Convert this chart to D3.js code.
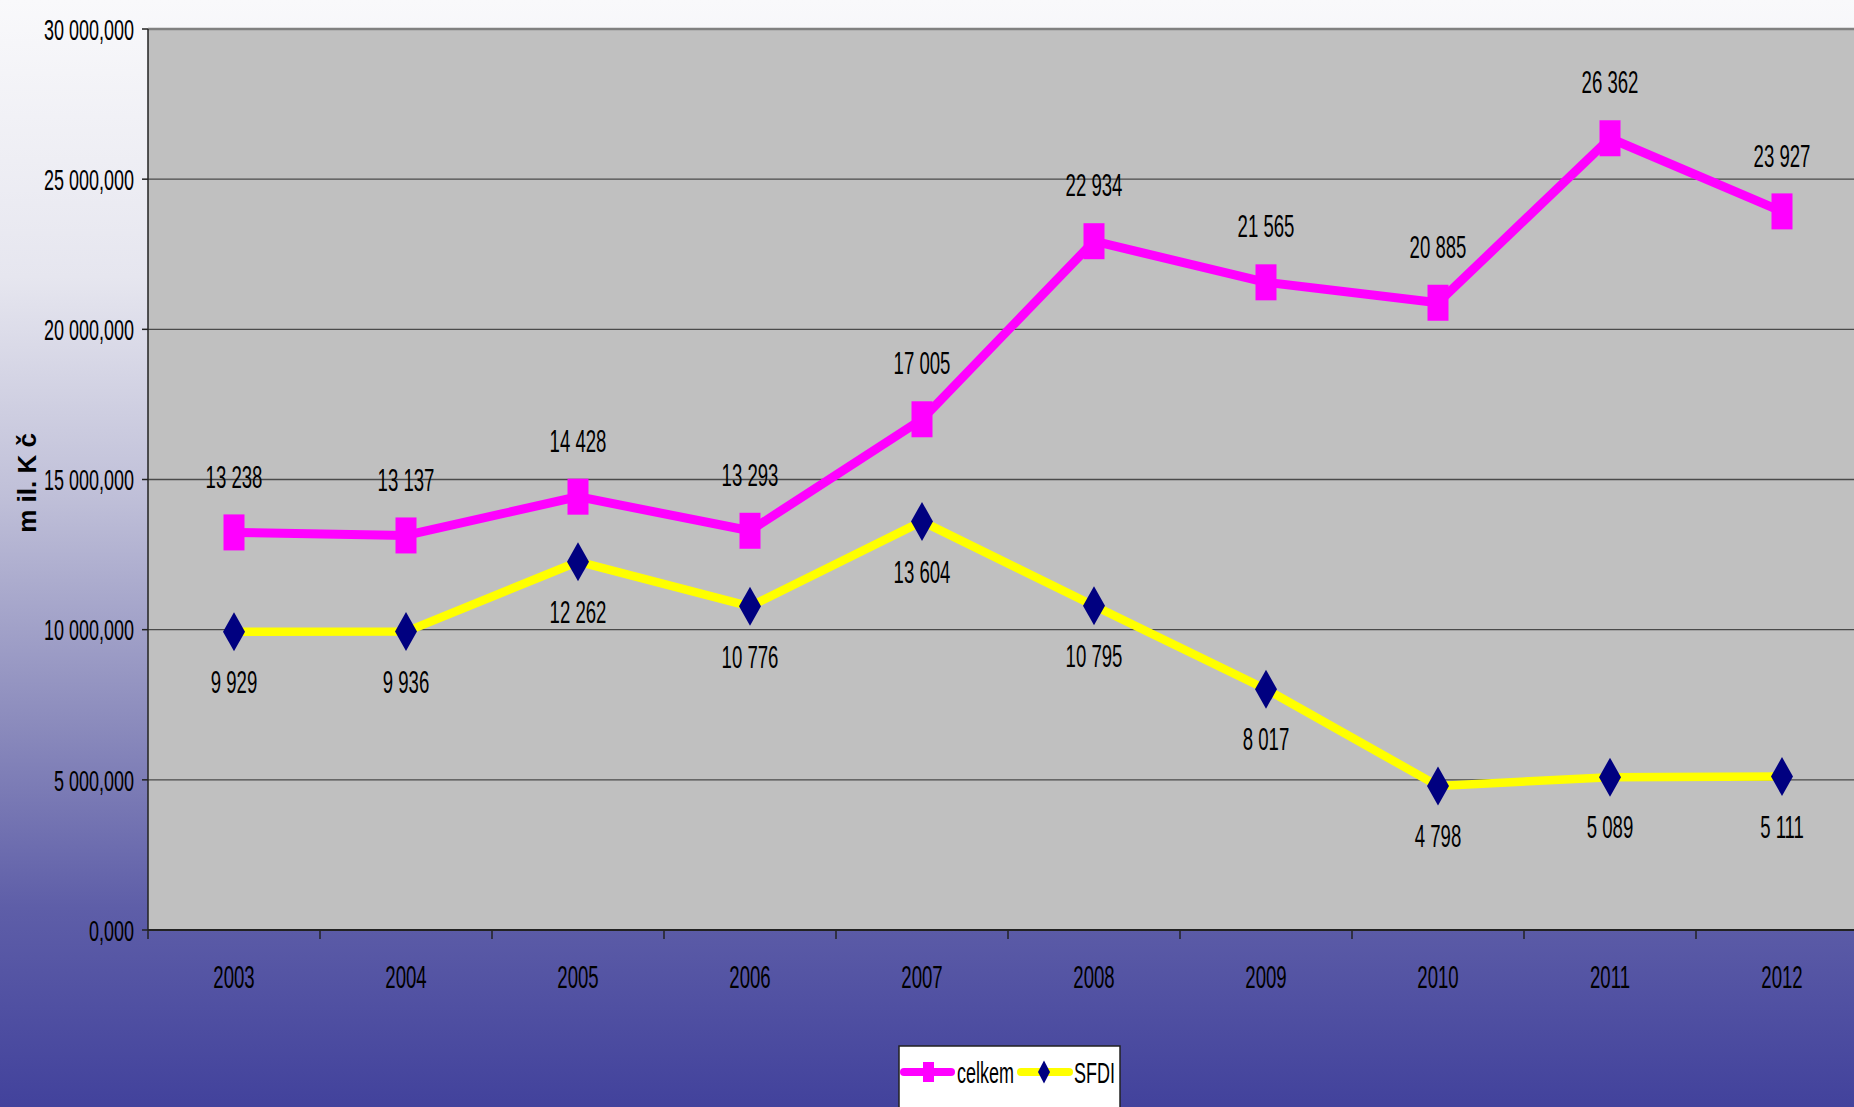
<!DOCTYPE html>
<html>
<head>
<meta charset="utf-8">
<script src="https://cdn.jsdelivr.net/npm/d3@7"></script>
<style>
  html, body { margin: 0; padding: 0; overflow: hidden; }
  svg { display: block; }
  text { font-family: "Liberation Sans", Arial, sans-serif; fill: #000; }
</style>
</head>
<body>
<svg id="chart" width="1854" height="1107"></svg>
<script>
// data (values in thousands, axis shows same number with 3 decimals)
const years = ["2003", "2004", "2005", "2006", "2007", "2008", "2009", "2010", "2011", "2012"];
const celkem = [13238, 13137, 14428, 13293, 17005, 22934, 21565, 20885, 26362, 23927];
const sfdi = [9929, 9936, 12262, 10776, 13604, 10795, 8017, 4798, 5089, 5111];
const yTicks = [0, 5000, 10000, 15000, 20000, 25000, 30000];
const yTitle = "m il. K č";
const seriesNames = ["celkem", "SFDI"];

const width = 1854, height = 1107;
const margin = { left: 148, top: 29, bottom: 930 };
const plotRight = 148 + 172 * 10;
const squeeze = 0.6; // narrow font look

const svg = d3.select("#chart");

// background gradient
const defs = svg.append("defs");
const grad = defs.append("linearGradient")
    .attr("id", "bg")
    .attr("x1", 0).attr("y1", 0).attr("x2", 0).attr("y2", 1);
[
    [0, "#f9f9fb"],
    [0.25, "#e6e6ef"],
    [0.45, "#bfbfd8"],
    [0.65, "#8c8cbd"],
    [0.82, "#5e5ea8"],
    [1, "#42429c"]
].forEach(([o, c]) => grad.append("stop").attr("offset", o).attr("stop-color", c));

svg.append("rect")
    .attr("width", width).attr("height", height)
    .attr("fill", "url(#bg)");

const x = d3.scaleBand()
    .domain(years)
    .range([margin.left, plotRight]);

const y = d3.scaleLinear()
    .domain([0, 30000])
    .range([margin.bottom, margin.top]);

// plot area
svg.append("rect")
    .attr("x", margin.left)
    .attr("y", margin.top)
    .attr("width", plotRight - margin.left)
    .attr("height", margin.bottom - margin.top)
    .attr("fill", "#c0c0c0");

// gridlines
svg.append("g")
    .selectAll("line")
    .data(yTicks.filter(d => d > 0 && d < 30000))
    .join("line")
    .attr("x1", margin.left).attr("x2", plotRight)
    .attr("y1", d => y(d)).attr("y2", d => y(d))
    .attr("stroke", "#4a4a4a")
    .attr("stroke-width", 1.3);

// top border
svg.append("line")
    .attr("x1", margin.left).attr("x2", plotRight)
    .attr("y1", y(30000)).attr("y2", y(30000))
    .attr("stroke", "#808080")
    .attr("stroke-width", 2.5);

// number formats (Czech style: space thousands, comma decimals)
const fmtTick = d => d3.format(",.3f")(d).replace(/,/g, " ").replace(".", ",");
const fmtLabel = d => d3.format(",")(d).replace(/,/g, " ");

// y axis
const yAxis = svg.append("g");
yAxis.append("line")
    .attr("x1", margin.left).attr("x2", margin.left)
    .attr("y1", margin.top).attr("y2", margin.bottom)
    .attr("stroke", "#222").attr("stroke-width", 1.5);
yAxis.selectAll("line.tick")
    .data(yTicks)
    .join("line")
    .attr("class", "tick")
    .attr("x1", margin.left - 6).attr("x2", margin.left)
    .attr("y1", d => y(d)).attr("y2", d => y(d))
    .attr("stroke", "#222").attr("stroke-width", 1.5);
yAxis.selectAll("text")
    .data(yTicks)
    .join("text")
    .attr("transform", d => `translate(134,${y(d)}) scale(${squeeze},1)`)
    .attr("text-anchor", "end")
    .attr("dy", "0.36em")
    .attr("font-size", 30)
    .text(fmtTick);

// x axis
const xAxis = svg.append("g");
xAxis.append("line")
    .attr("x1", margin.left).attr("x2", plotRight)
    .attr("y1", margin.bottom).attr("y2", margin.bottom)
    .attr("stroke", "#222").attr("stroke-width", 2);
xAxis.selectAll("line.tick")
    .data(years)
    .join("line")
    .attr("class", "tick")
    .attr("x1", d => x(d)).attr("x2", d => x(d))
    .attr("y1", margin.bottom).attr("y2", margin.bottom + 9)
    .attr("stroke", "#222").attr("stroke-width", 1.5);
xAxis.selectAll("text")
    .data(years)
    .join("text")
    .attr("transform", d => `translate(${x(d) + x.bandwidth() / 2},988) scale(${squeeze},1)`)
    .attr("text-anchor", "middle")
    .attr("font-size", 31)
    .text(d => d);

// y title
svg.append("text")
    .attr("transform", "translate(36,483) rotate(-90)")
    .attr("text-anchor", "middle")
    .attr("font-size", 26)
    .attr("font-weight", "bold")
    .text(yTitle);

const cx = d => x(d) + x.bandwidth() / 2;

const line = d3.line()
    .x(d => cx(d.year))
    .y(d => y(d.value));

const celkemData = years.map((yr, i) => ({ year: yr, value: celkem[i] }));
const sfdiData = years.map((yr, i) => ({ year: yr, value: sfdi[i] }));

// SFDI line
svg.append("path")
    .datum(sfdiData)
    .attr("d", line)
    .attr("fill", "none")
    .attr("stroke", "#ffff00")
    .attr("stroke-width", 8.5)
    .attr("stroke-linejoin", "round");

// celkem line
svg.append("path")
    .datum(celkemData)
    .attr("d", line)
    .attr("fill", "none")
    .attr("stroke", "#ff00ff")
    .attr("stroke-width", 9)
    .attr("stroke-linejoin", "round");

// celkem markers
svg.append("g")
    .selectAll("rect")
    .data(celkemData)
    .join("rect")
    .attr("x", d => cx(d.year) - 10.5)
    .attr("y", d => y(d.value) - 18)
    .attr("width", 21)
    .attr("height", 36)
    .attr("fill", "#ff00ff");

// SFDI markers
const diamond = (w, h) => `M0,${-h / 2}L${w / 2},0L0,${h / 2}L${-w / 2},0Z`;
svg.append("g")
    .selectAll("path")
    .data(sfdiData)
    .join("path")
    .attr("transform", d => `translate(${cx(d.year)},${y(d.value)})`)
    .attr("d", diamond(22, 39))
    .attr("fill", "#000080");

// data labels
svg.append("g")
    .selectAll("text")
    .data(celkemData)
    .join("text")
    .attr("transform", d => `translate(${cx(d.year)},${y(d.value) - 56}) scale(${squeeze},1)`)
    .attr("text-anchor", "middle")
    .attr("dy", "0.36em")
    .attr("font-size", 31)
    .text(d => fmtLabel(d.value));

svg.append("g")
    .selectAll("text")
    .data(sfdiData)
    .join("text")
    .attr("transform", d => `translate(${cx(d.year)},${y(d.value) + 50}) scale(${squeeze},1)`)
    .attr("text-anchor", "middle")
    .attr("dy", "0.36em")
    .attr("font-size", 31)
    .text(d => fmtLabel(d.value));

// legend
const legend = svg.append("g").attr("transform", "translate(899,1046)");
legend.append("rect")
    .attr("width", 221).attr("height", 90)
    .attr("fill", "#fff")
    .attr("stroke", "#222").attr("stroke-width", 1.5);

const ly = 26;
legend.append("line")
    .attr("x1", 5).attr("x2", 52).attr("y1", ly).attr("y2", ly)
    .attr("stroke", "#ff00ff").attr("stroke-width", 8).attr("stroke-linecap", "round");
legend.append("rect")
    .attr("x", 24).attr("y", ly - 10).attr("width", 11).attr("height", 20)
    .attr("fill", "#ff00ff");
legend.append("text")
    .attr("transform", `translate(58,${ly}) scale(${squeeze},1)`)
    .attr("dy", "0.36em")
    .attr("font-size", 30)
    .text(seriesNames[0]);

legend.append("line")
    .attr("x1", 122).attr("x2", 170).attr("y1", ly).attr("y2", ly)
    .attr("stroke", "#ffff00").attr("stroke-width", 8).attr("stroke-linecap", "round");
legend.append("path")
    .attr("transform", `translate(145,${ly})`)
    .attr("d", diamond(12, 23))
    .attr("fill", "#000080");
legend.append("text")
    .attr("transform", `translate(175,${ly}) scale(${squeeze},1)`)
    .attr("dy", "0.36em")
    .attr("font-size", 30)
    .text(seriesNames[1]);
</script>
</body>
</html>
